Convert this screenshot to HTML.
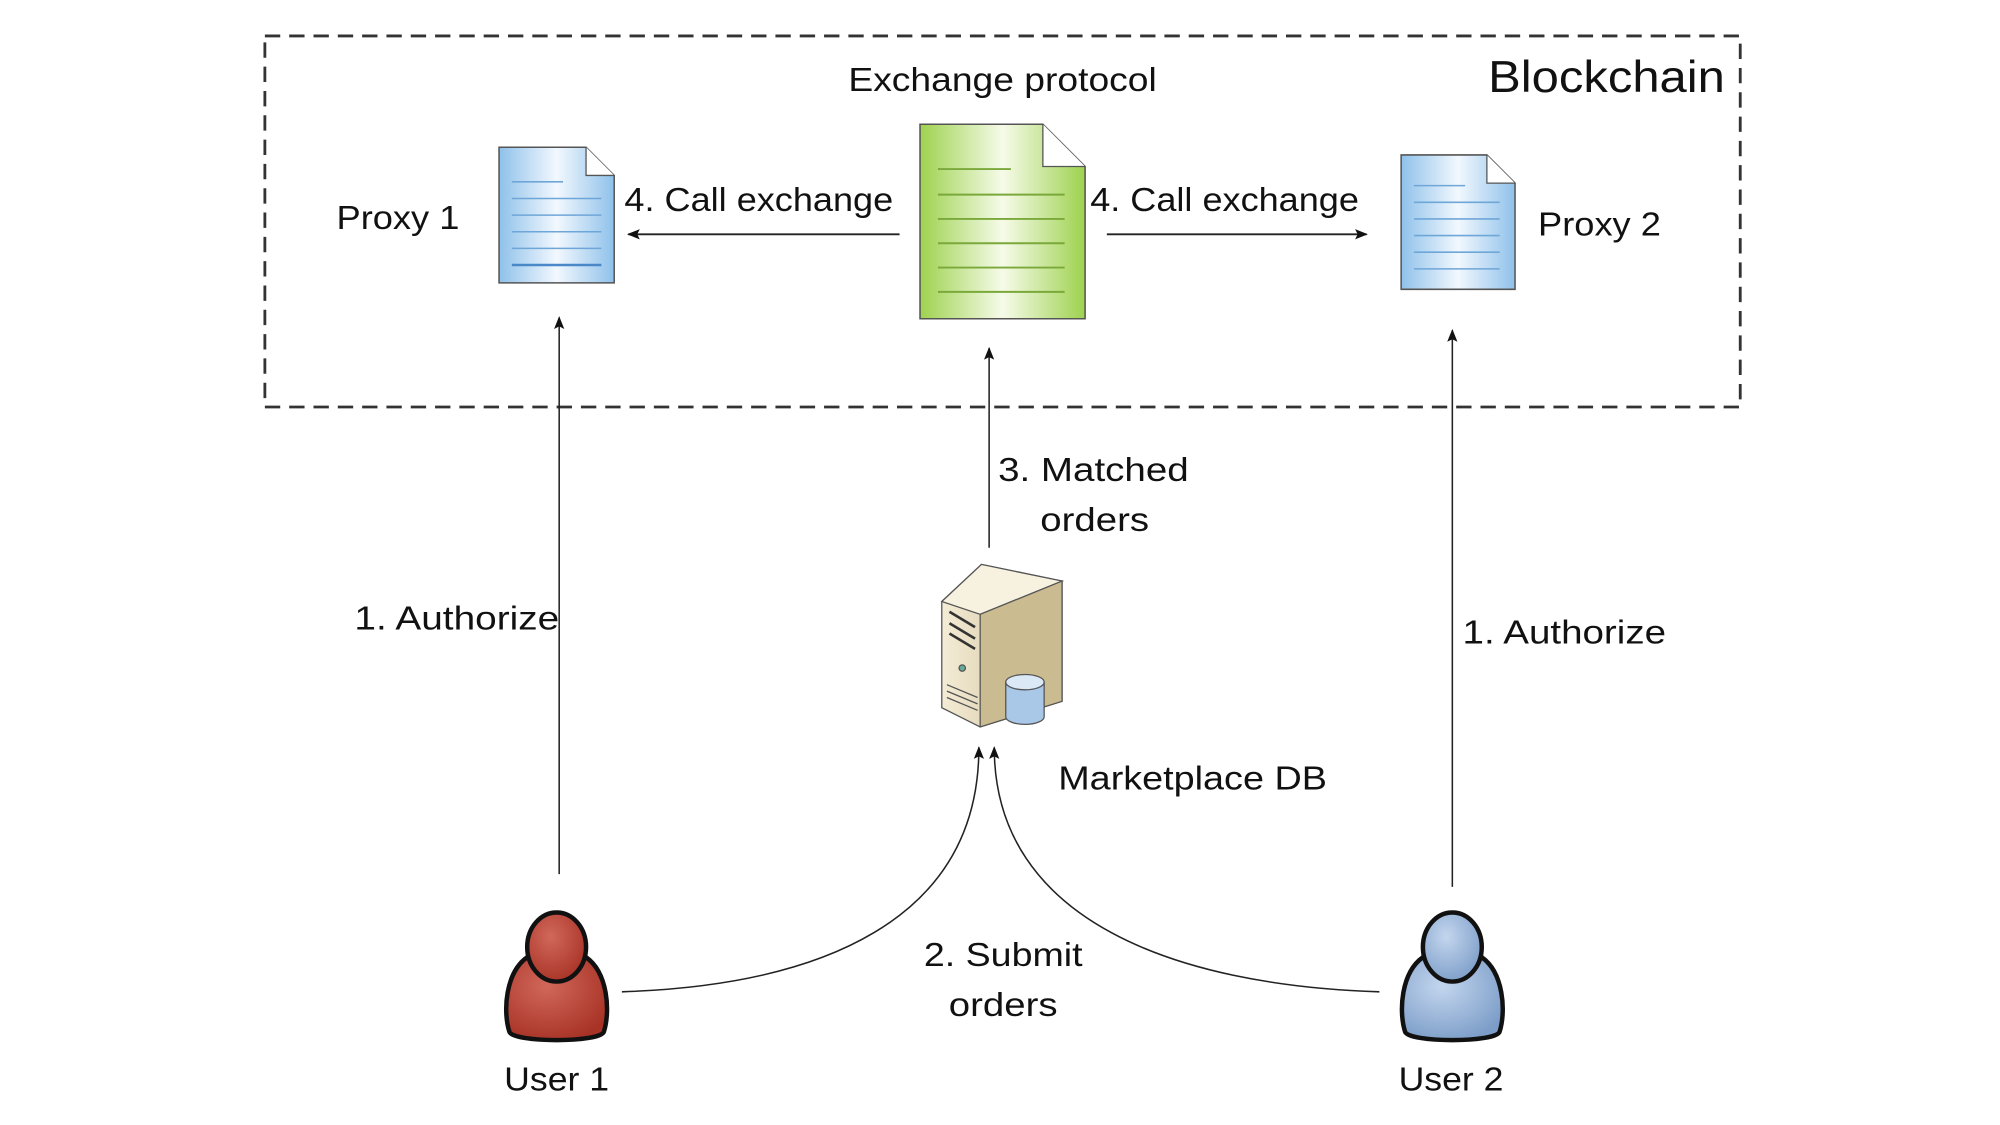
<!DOCTYPE html>
<html><head><meta charset="utf-8"><style>html,body{margin:0;padding:0;background:#fff}svg{display:block}</style></head>
<body>
<svg width="2000" height="1125" viewBox="0 0 1563 879" xmlns="http://www.w3.org/2000/svg" font-family="Liberation Sans, sans-serif" fill="#111">
<defs>
<linearGradient id="blue" x1="0" x2="1" y1="0" y2="0">
<stop offset="0" stop-color="#8fc1ea"/><stop offset="0.5" stop-color="#f2f8fe"/><stop offset="1" stop-color="#8fc1ea"/></linearGradient>
<linearGradient id="blueV" x1="0" x2="0" y1="0" y2="1">
<stop offset="0" stop-color="#fff" stop-opacity="0"/><stop offset="0.5" stop-color="#fff" stop-opacity="0.5"/><stop offset="1" stop-color="#fff" stop-opacity="0"/></linearGradient>
<linearGradient id="green" x1="0" x2="1"><stop offset="0" stop-color="#9ed24f"/><stop offset="0.5" stop-color="#f6fbe9"/><stop offset="1" stop-color="#9ed24f"/></linearGradient>
<linearGradient id="srv" x1="0" x2="1"><stop offset="0" stop-color="#f4ecd6"/><stop offset="1" stop-color="#c8b88e"/></linearGradient>
<radialGradient id="red" cx="0.4" cy="0.35" r="0.7"><stop offset="0" stop-color="#d0685a"/><stop offset="1" stop-color="#a83226"/></radialGradient>
<radialGradient id="bl" cx="0.4" cy="0.35" r="0.7"><stop offset="0" stop-color="#c3d6ee"/><stop offset="1" stop-color="#7c9dc8"/></radialGradient>
<marker id="ah" markerWidth="10" markerHeight="8" refX="9" refY="4" orient="auto" markerUnits="userSpaceOnUse"><path d="M0,0 L10,4 L0,8 L2,4 z" fill="#111"/></marker>
</defs>

<rect x="207" y="28" width="1153" height="290" fill="none" stroke="#333" stroke-width="2.2" stroke-dasharray="12,7"/>
<text x="1163" y="72" font-size="35" textLength="185" lengthAdjust="spacingAndGlyphs">Blockchain</text>
<text x="663" y="71" font-size="26" textLength="241" lengthAdjust="spacingAndGlyphs">Exchange protocol</text>

<!-- Proxy 1 -->
<g>
<path d="M390,115 L458,115 L480,137 L480,221 L390,221 Z" fill="url(#blue)" stroke="#555" stroke-width="1.2"/>
<path d="M458,115 L458,137 L480,137" fill="#fff" stroke="#555" stroke-width="1"/>
<g stroke="#6fa6d8" stroke-width="1.2"><line x1="400" y1="142" x2="440" y2="142"/><line x1="400" y1="155" x2="470" y2="155"/><line x1="400" y1="168" x2="470" y2="168"/><line x1="400" y1="181" x2="470" y2="181"/><line x1="400" y1="194" x2="470" y2="194"/><line x1="400" y1="207" x2="470" y2="207" stroke="#4a88c8" stroke-width="2"/></g>
</g>
<text x="263" y="179" font-size="26" textLength="96" lengthAdjust="spacingAndGlyphs">Proxy 1</text>

<!-- Green doc -->
<path d="M719,97 L815,97 L848,130 L848,249 L719,249 Z" fill="url(#green)" stroke="#555" stroke-width="1.2"/>
<path d="M815,97 L815,130 L848,130" fill="#fff" stroke="#555" stroke-width="1"/>
<g stroke="#7aa83a" stroke-width="1.5"><line x1="733" y1="132" x2="790" y2="132"/><line x1="733" y1="152" x2="832" y2="152"/><line x1="733" y1="171" x2="832" y2="171"/><line x1="733" y1="190" x2="832" y2="190"/><line x1="733" y1="209" x2="832" y2="209"/><line x1="733" y1="228" x2="832" y2="228"/></g>

<!-- Proxy 2 -->
<path d="M1095,121 L1162,121 L1184,143 L1184,226 L1095,226 Z" fill="url(#blue)" stroke="#555" stroke-width="1.2"/>
<path d="M1162,121 L1162,143 L1184,143" fill="#fff" stroke="#555" stroke-width="1"/>
<g stroke="#6fa6d8" stroke-width="1.2"><line x1="1105" y1="145" x2="1145" y2="145"/><line x1="1105" y1="158" x2="1172" y2="158"/><line x1="1105" y1="171" x2="1172" y2="171"/><line x1="1105" y1="184" x2="1172" y2="184"/><line x1="1105" y1="197" x2="1172" y2="197"/><line x1="1105" y1="210" x2="1172" y2="210"/></g>
<text x="1202" y="184" font-size="26" textLength="96" lengthAdjust="spacingAndGlyphs">Proxy 2</text>

<text x="488" y="165" font-size="26" textLength="210" lengthAdjust="spacingAndGlyphs">4. Call exchange</text>
<text x="852" y="165" font-size="26" textLength="210" lengthAdjust="spacingAndGlyphs">4. Call exchange</text>
<line x1="703" y1="183" x2="491" y2="183" stroke="#222" stroke-width="1.5" marker-end="url(#ah)"/>
<line x1="865" y1="183" x2="1068" y2="183" stroke="#222" stroke-width="1.5" marker-end="url(#ah)"/>

<line x1="437" y1="683" x2="437" y2="248" stroke="#222" stroke-width="1.2" marker-end="url(#ah)"/>
<line x1="773" y1="428" x2="773" y2="272" stroke="#222" stroke-width="1.2" marker-end="url(#ah)"/>
<line x1="1135" y1="693" x2="1135" y2="258" stroke="#222" stroke-width="1.2" marker-end="url(#ah)"/>

<text x="780" y="376" font-size="26" textLength="149" lengthAdjust="spacingAndGlyphs">3. Matched</text>
<text x="813" y="415" font-size="26" textLength="85" lengthAdjust="spacingAndGlyphs">orders</text>
<text x="277" y="492" font-size="26" textLength="160" lengthAdjust="spacingAndGlyphs">1. Authorize</text>
<text x="1143" y="503" font-size="26" textLength="159" lengthAdjust="spacingAndGlyphs">1. Authorize</text>

<!-- Server -->
<g stroke="#555" stroke-width="1">
<path d="M736,470 L767,441 L830,454 L830,548 L766,568 L736,553 Z" fill="url(#srv)"/>
<path d="M736,470 L767,441 L830,454 L766,480 Z" fill="#f7f1e0"/>
<path d="M766,480 L830,454 L830,548 L766,568 Z" fill="#cbbb90"/>
<g stroke="#333" stroke-width="2"><line x1="742" y1="478" x2="762" y2="490"/><line x1="742" y1="487" x2="762" y2="499"/><line x1="742" y1="495" x2="762" y2="507"/></g>
<circle cx="752" cy="522" r="2.5" fill="#6a9"/>
<g stroke="#555"><line x1="740" y1="535" x2="764" y2="545"/><line x1="740" y1="540" x2="764" y2="550"/><line x1="740" y1="545" x2="764" y2="555"/></g>
<path d="M786,533 L786,560 A15,6 0 0 0 816,560 L816,533 Z" fill="#a9c8e8"/>
<ellipse cx="801" cy="533" rx="15" ry="6" fill="#dbe9f7"/>
</g>
<text x="827" y="617" font-size="26" textLength="210" lengthAdjust="spacingAndGlyphs">Marketplace DB</text>

<path d="M486,775 C640,770 765,720 765,584" fill="none" stroke="#222" stroke-width="1.2" marker-end="url(#ah)"/>
<path d="M1078,775 C920,770 777,720 777,584" fill="none" stroke="#222" stroke-width="1.2" marker-end="url(#ah)"/>
<text x="784" y="755" font-size="26" text-anchor="middle" textLength="124" lengthAdjust="spacingAndGlyphs">2. Submit</text>
<text x="784" y="794" font-size="26" text-anchor="middle" textLength="85" lengthAdjust="spacingAndGlyphs">orders</text>

<!-- Users -->
<g stroke="#111" stroke-width="3.5">
<path d="M398,806 C393,790 395,760 412,748 L458,748 C475,760 477,790 472,806 C470,815 400,815 398,806 Z" fill="url(#red)"/>
<ellipse cx="435" cy="740" rx="23" ry="27" fill="url(#red)"/>
<path d="M1098,806 C1093,790 1095,760 1112,748 L1158,748 C1175,760 1177,790 1172,806 C1170,815 1100,815 1098,806 Z" fill="url(#bl)"/>
<ellipse cx="1135" cy="740" rx="23" ry="27" fill="url(#bl)"/>
</g>
<text x="435" y="852" font-size="26" text-anchor="middle" textLength="82" lengthAdjust="spacingAndGlyphs">User 1</text>
<text x="1134" y="852" font-size="26" text-anchor="middle" textLength="82" lengthAdjust="spacingAndGlyphs">User 2</text>
</svg>
</body></html>
